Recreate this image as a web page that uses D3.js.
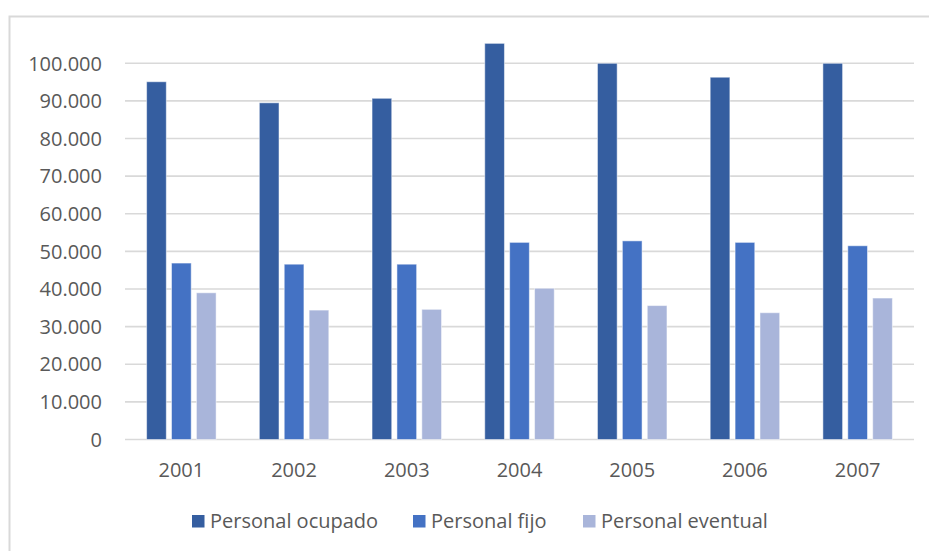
<!DOCTYPE html>
<html>
<head>
    <meta charset="utf-8">
    <script src="https://d3js.org/d3.v7.min.js"></script>
    <style>
        body { margin: 0; background: #fff; }
        text { font-family: "Open Sans", "Noto Sans", sans-serif; fill: #595959; }
    </style>
</head>

<body></body>

<script>
    // data
    var years = ["2001", "2002", "2003", "2004", "2005", "2006", "2007"];
    var seriesNames = ["Personal ocupado", "Personal fijo", "Personal eventual"];
    var ocupado  = [95100, 89500, 90700, 105300, 100000, 96300, 100000];
    var fijo     = [46900, 46600, 46600, 52400, 52800, 52400, 51500];
    var eventual = [39000, 34400, 34600, 40200, 35600, 33700, 37600];
    var yTicks = [0, 10000, 20000, 30000, 40000, 50000, 60000, 70000, 80000, 90000, 100000];
    var colors = ["#355ea0", "#4472c4", "#a9b5da"];

    var W = 929, H = 551;
    var plot = {left: 125, right: 914, top: 63.3, bottom: 439.5};

    var svg = d3.select("body").append("svg")
        .attr("width", W)
        .attr("height", H);

    // outer chart border (only top and left visible in the crop)
    svg.append("path")
        .attr("d", "M9.5," + (H + 5) + " V16.5 H" + (W + 5))
        .attr("fill", "none")
        .attr("stroke", "#d9d9d9")
        .attr("stroke-width", 2);

    var x0 = d3.scaleBand().domain(years).range([plot.left, plot.right]);
    var y = d3.scaleLinear().domain([0, 100000]).range([plot.bottom, plot.top]);
    var half = 34.75;
    var x1 = d3.scaleBand().domain(seriesNames)
        .range([x0.bandwidth() / 2 - half, x0.bandwidth() / 2 + half])
        .paddingInner(0.209);

    var fmt = function(d) { return d3.format(",")(d).replace(/,/g, "."); };

    // gridlines
    svg.append("g").selectAll("line").data(yTicks).enter().append("line")
        .attr("x1", plot.left).attr("x2", plot.right)
        .attr("y1", function(d) { return y(d); })
        .attr("y2", function(d) { return y(d); })
        .attr("stroke", "#d9d9d9")
        .attr("stroke-width", 1.6);

    // y labels
    svg.append("g").selectAll("text").data(yTicks).enter().append("text")
        .attr("x", 102)
        .attr("y", function(d) { return y(d); })
        .attr("dy", "0.36em")
        .attr("text-anchor", "end")
        .style("font-size", "20px")
        .text(fmt);

    // bars
    var series = [ocupado, fijo, eventual];
    var rows = [];
    series.forEach(function(vals, si) {
        vals.forEach(function(v, i) {
            rows.push({year: years[i], name: seriesNames[si], value: v, c: si});
        });
    });

    svg.append("g").selectAll("rect").data(rows).enter().append("rect")
        .attr("x", function(d) { return x0(d.year) + x1(d.name); })
        .attr("y", function(d) { return y(d.value); })
        .attr("width", x1.bandwidth())
        .attr("height", function(d) { return y(0) - y(d.value); })
        .attr("fill", function(d) { return colors[d.c]; })
        .attr("stroke", "rgba(255,255,255,0.5)")
        .attr("stroke-width", 1);

    // x labels
    svg.append("g").selectAll("text").data(years).enter().append("text")
        .attr("x", function(d) { return x0(d) + x0.bandwidth() / 2; })
        .attr("y", 477)
        .attr("text-anchor", "middle")
        .style("font-size", "20px")
        .text(function(d) { return d; });

    // legend
    var legendX = [192, 413, 583];
    var lg = svg.append("g").selectAll("g").data(seriesNames).enter().append("g")
        .attr("transform", function(d, i) { return "translate(" + legendX[i] + ",515)"; });
    lg.append("rect")
        .attr("width", 12.5).attr("height", 12.5)
        .attr("fill", function(d, i) { return colors[i]; });
    lg.append("text")
        .attr("x", 18)
        .attr("y", 12.5)
        .style("font-size", "20px")
        .text(function(d) { return d; });
</script>
</html>
